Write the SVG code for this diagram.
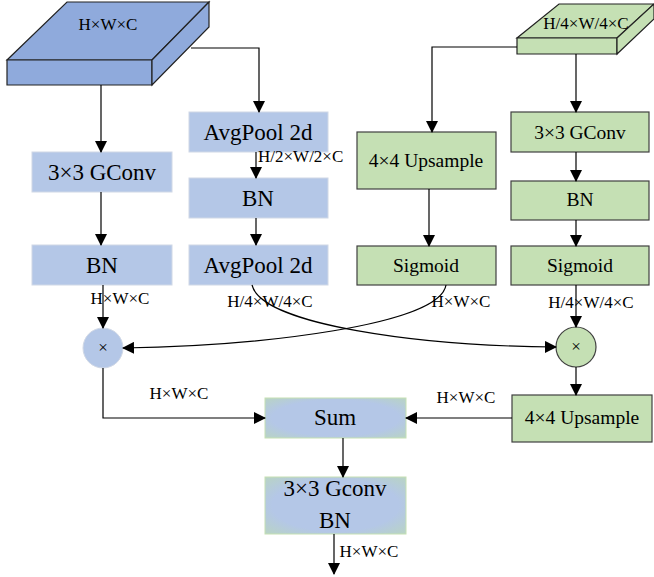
<svg xmlns="http://www.w3.org/2000/svg" width="654" height="577" viewBox="0 0 654 577">
<defs>
<marker id="ah" markerWidth="12" markerHeight="12" viewBox="0 0 12 12" refX="11" refY="6" orient="auto" markerUnits="userSpaceOnUse">
<path d="M0,0 L12,6 L0,12 Z" fill="#000"/>
</marker>
<radialGradient id="sumg" cx="50%" cy="50%" r="75%">
<stop offset="0.6" stop-color="#b4c7e7"/>
<stop offset="1" stop-color="#b9d6bd"/>
</radialGradient>
<style>
text{font-family:'Liberation Serif','Times New Roman',Times,'DejaVu Serif',serif;fill:#000;text-anchor:middle}
.big{font-size:23px}
.mid{font-size:19.5px}
.lab{font-size:17px}
.blue{fill:#b4c7e7;stroke:#d0d8e6;stroke-width:1}
.green{fill:#c5e0b4;stroke:#404040;stroke-width:1.2}
.conn{fill:none;stroke:#000;stroke-width:1.2;marker-end:url(#ah)}
</style>
</defs>
<rect width="654" height="577" fill="#fff"/>

<g id="slab-blue">
<polygon points="67,2 209,2 152,60 7,60" fill="#8faadc" stroke="#222" stroke-width="1.2"/>
<polygon points="7,60 152,60 152,85 7,85" fill="#8faadc" stroke="#222" stroke-width="1.2"/>
<polygon points="152,60 209,2 209,27 152,85" fill="#8faadc" stroke="#222" stroke-width="1.2"/>
<text class="lab" x="108" y="30">H×W×C</text>
</g>

<g id="slab-green">
<polygon points="559,4 654,4 617,38 517,38" fill="#c5e0b4" stroke="#222" stroke-width="1.2"/>
<polygon points="517,38 617,38 617,54 517,54" fill="#c5e0b4" stroke="#222" stroke-width="1.2"/>
<polygon points="617,38 654,4 654,19 617,54" fill="#c5e0b4" stroke="#222" stroke-width="1.2"/>
<text class="lab" x="586" y="29">H/4×W/4×C</text>
</g>

<g id="gconv-left"><rect class="blue" x="32" y="152" width="140" height="40"/><text class="big" x="102" y="180">3×3 GConv</text></g>
<g id="bn-left"><rect class="blue" x="32" y="245" width="140" height="40"/><text class="big" x="102" y="273">BN</text></g>
<g id="avgpool1"><rect class="blue" x="189" y="112" width="139" height="40"/><text class="big" x="258" y="140">AvgPool 2d</text></g>
<g id="bn-mid"><rect class="blue" x="189" y="178" width="139" height="40"/><text class="big" x="258" y="206">BN</text></g>
<g id="avgpool2"><rect class="blue" x="189" y="245" width="139" height="40"/><text class="big" x="258" y="273">AvgPool 2d</text></g>

<g id="upsample1"><rect class="green" x="357" y="132" width="139" height="57"/><text class="mid" x="426" y="167">4×4 Upsample</text></g>
<g id="sigmoid1"><rect class="green" x="357" y="246" width="139" height="39"/><text class="mid" x="426" y="272">Sigmoid</text></g>
<g id="gconv-right"><rect class="green" x="511" y="112" width="138" height="40"/><text class="mid" x="580" y="139">3×3 GConv</text></g>
<g id="bn-right"><rect class="green" x="511" y="181" width="138" height="39"/><text class="mid" x="580" y="206">BN</text></g>
<g id="sigmoid2"><rect class="green" x="511" y="246" width="138" height="39"/><text class="mid" x="580" y="272">Sigmoid</text></g>

<g id="mul-left"><circle cx="103" cy="348" r="20" fill="#b4c7e7" stroke="#d0d8e6"/><text class="lab" x="103" y="353">×</text></g>
<g id="mul-right"><circle cx="576" cy="347" r="20" fill="#c5e0b4" stroke="#404040" stroke-width="1.2"/><text class="lab" x="576" y="352">×</text></g>

<g id="upsample2"><rect class="green" x="512" y="395" width="140" height="47"/><text class="mid" x="582" y="424">4×4 Upsample</text></g>
<g id="sum"><rect x="265" y="398" width="141" height="40" fill="url(#sumg)" stroke="#c5e0b4"/><text class="big" x="335" y="425">Sum</text></g>
<g id="gconv-bn"><rect x="265" y="477" width="141" height="57" fill="url(#sumg)" stroke="#c5e0b4"/><text class="big" x="335" y="496">3×3 Gconv</text><text class="big" x="335" y="528">BN</text></g>

<g id="connectors">
<path class="conn" d="M101,85 V152"/>
<path class="conn" d="M191,48 H259 V112"/>
<path class="conn" d="M101,192 V245"/>
<path class="conn" d="M256,152 V178"/>
<path class="conn" d="M256,218 V245"/>
<path class="conn" d="M517,47 H432 V132"/>
<path class="conn" d="M576,54 V112"/>
<path class="conn" d="M429,189 V246"/>
<path class="conn" d="M576,152 V181"/>
<path class="conn" d="M576,220 V246"/>
<path class="conn" d="M103,285 V328"/>
<path class="conn" d="M576,285 V327"/>
<path class="conn" d="M252,285 C262,325 420,346 556,347"/>
<path class="conn" d="M446,285 C440,325 260,346 123,348"/>
<path class="conn" d="M103,368 V418 H265"/>
<path class="conn" d="M576,367 V395"/>
<path class="conn" d="M512,418 H406"/>
<path class="conn" d="M343,438 V477"/>
<path class="conn" d="M334,534 V574"/>
</g>

<g id="labels">
<text class="lab" x="258" y="162" text-anchor="start" style="text-anchor:start">H/2×W/2×C</text>
<text class="lab" x="120" y="304">H×W×C</text>
<text class="lab" x="270" y="307">H/4×W/4×C</text>
<text class="lab" x="461" y="307">H×W×C</text>
<text class="lab" x="591" y="308">H/4×W/4×C</text>
<text class="lab" x="179" y="399">H×W×C</text>
<text class="lab" x="466" y="403">H×W×C</text>
<text class="lab" x="369" y="557">H×W×C</text>
</g>
</svg>
